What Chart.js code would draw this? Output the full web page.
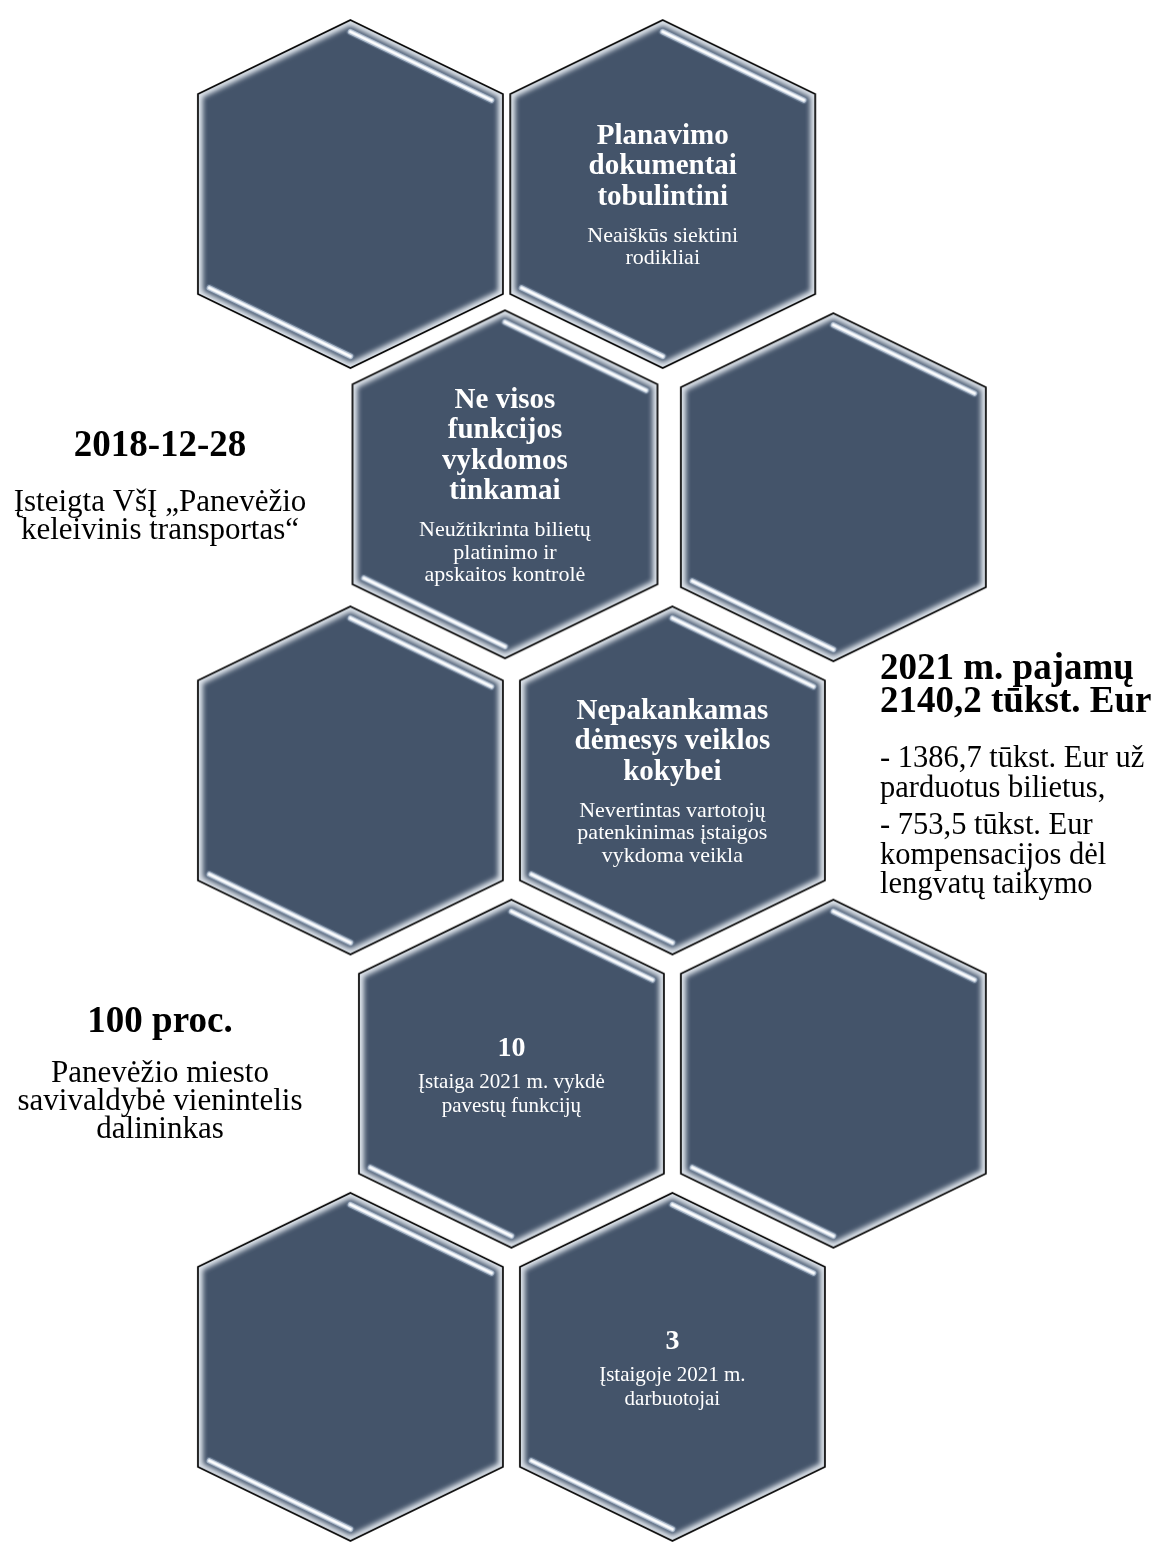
<!DOCTYPE html>
<html lang="lt">
<head>
<meta charset="utf-8">
<title>VšĮ „Panevėžio keleivinis transportas“</title>
<script src="https://cdn.jsdelivr.net/npm/chart.js@4.4.0/dist/chart.umd.min.js"></script>
<style>
  html, body { margin: 0; padding: 0; background: #ffffff; }
  #wrap { position: relative; width: 1162px; height: 1543px; overflow: hidden; }
  canvas { display: block; }
</style>
</head>
<body>
<div id="wrap"><canvas id="c" width="1162" height="1543"></canvas></div>
<script>
// ---------------- DATA ----------------
// honeycomb cells: grid column / row of every hexagon
const cellCol = [0, 1.94, 0.96, 3, 0, 2, 1, 3, 0, 2];
const cellRow = [0, 0, 0.99, 1, 2, 2, 3, 3, 4, 4];
// bold heading inside each cell
const cellTitle = [
  [],
  ['Planavimo', 'dokumentai', 'tobulintini'],
  ['Ne visos', 'funkcijos', 'vykdomos', 'tinkamai'],
  [],
  [],
  ['Nepakankamas', 'dėmesys veiklos', 'kokybei'],
  ['10'],
  [],
  [],
  ['3']
];
// explanatory text inside each cell
const cellNote = [
  [],
  ['Neaiškūs siektini', 'rodikliai'],
  ['Neužtikrinta bilietų', 'platinimo ir', 'apskaitos kontrolė'],
  [],
  [],
  ['Nevertintas vartotojų', 'patenkinimas įstaigos', 'vykdoma veikla'],
  ['Įstaiga 2021 m. vykdė', 'pavestų funkcijų'],
  [],
  [],
  ['Įstaigoje 2021 m.', 'darbuotojai']
];
// key facts written beside the honeycomb
const sideTitles = [
  ['2018-12-28'],
  ['2021 m. pajamų', '2140,2 tūkst. Eur'],
  ['100 proc.']
];
const sideNotes = [
  [['Įsteigta VšĮ „Panevėžio', 'keleivinis transportas“']],
  [['- 1386,7 tūkst. Eur už', 'parduotus bilietus,'], ['- 753,5 tūkst. Eur', 'kompensacijos dėl', 'lengvatų taikymo']],
  [['Panevėžio miesto', 'savivaldybė vienintelis', 'dalininkas']]
];

// ---------------- LAYOUT / STYLE ----------------
const W = 1162, H = 1543;
const COL_PX = 162.667, COL0_PX = 348;
const ROW_PX = 295.5, ROW0_PX = 189.5;
const FONT = '"Liberation Serif", "Times New Roman", serif';
const HEX_FILL = '#44546A';

const sideLayout = [
  { x: 160, align: 'center', titleY: 456, titleLH: 32.4, titleSize: 37, noteY: 510.7, noteLH: 28.2, noteSize: 31, paraGap: 37 },
  { x: 880, align: 'left',   titleY: 679.3, titleLH: 32.4, titleSize: 37, noteY: 766.7, noteLH: 29.8, noteSize: 30.5, paraGap: 37.3 },
  { x: 160, align: 'center', titleY: 1032.3, titleLH: 32.4, titleSize: 37, noteY: 1081.7, noteLH: 28.3, noteSize: 31, paraGap: 37 }
];

function makeHexSprite(w, h, s) {
  const pad = 3;
  const c = document.createElement('canvas');
  c.width = Math.ceil(w + 2 * pad);
  c.height = Math.ceil(h + 2 * pad);
  const g = c.getContext('2d');
  const P = [[w / 2, 0], [w, s], [w, h - s], [w / 2, h], [0, h - s], [0, s]].map(([x, y]) => [x + pad, y + pad]);
  const path = (pts) => {
    g.beginPath();
    pts.forEach(([x, y], i) => (i ? g.lineTo(x, y) : g.moveTo(x, y)));
    g.closePath();
  };
  const cx = pad + w / 2, cy = pad + h / 2;

  g.save();
  path(P);
  g.clip();
  // light bevel rim
  g.fillStyle = '#dfe5ec';
  g.fillRect(0, 0, c.width, c.height);
  // main body, softened toward the rim
  const ins = 5;
  const Q = P.map(([x, y]) => [cx + (x - cx) * (w - 2 * ins) / w, cy + (y - cy) * (h - 2 * ins * 1.15) / h]);
  g.filter = 'blur(2.6px)';
  g.fillStyle = HEX_FILL;
  path(Q);
  g.fill();
  g.filter = 'none';

  // glossy highlight strips (top-right and bottom-left edges)
  function strip(A, B, t0, t1, off) {
    const dx = B[0] - A[0], dy = B[1] - A[1];
    const L = Math.hypot(dx, dy);
    const ux = dx / L, uy = dy / L;
    // inward normal
    let nx = -uy, ny = ux;
    const mx = (A[0] + B[0]) / 2, my = (A[1] + B[1]) / 2;
    if ((cx - mx) * nx + (cy - my) * ny < 0) { nx = -nx; ny = -ny; }
    const sx = A[0] + ux * L * t0 + nx * off, sy = A[1] + uy * L * t0 + ny * off;
    const ex = A[0] + ux * L * t1 + nx * off, ey = A[1] + uy * L * t1 + ny * off;
    g.lineCap = 'round';
    const layers = [
      [8, 'rgba(110,128,152,0.55)'],
      [5.5, 'rgba(185,198,214,0.95)'],
      [3, 'rgba(235,240,246,1)'],
      [1.6, '#ffffff']
    ];
    g.filter = 'blur(0.4px)';
    layers.forEach(([lw, col]) => {
      g.beginPath();
      g.moveTo(sx, sy);
      g.lineTo(ex, ey);
      g.lineWidth = lw;
      g.strokeStyle = col;
      g.stroke();
    });
    g.filter = 'none';
  }
  strip(P[0], P[1], 0.03, 0.955, 10.5);
  strip(P[4], P[3], 0.045, 0.97, 10.5);
  g.restore();

  path(P);
  g.lineWidth = 1.7;
  g.strokeStyle = '#000000';
  g.lineJoin = 'miter';
  g.stroke();
  return c;
}

const hexSprite = makeHexSprite(305, 348, 74);

const xMin = -COL0_PX / COL_PX, xMax = xMin + W / COL_PX;
const yMin = -ROW0_PX / ROW_PX, yMax = yMin + H / ROW_PX;

const textPlugin = {
  id: 'honeycombText',
  afterDatasetsDraw(chart) {
    const ctx = chart.ctx;
    const meta = chart.getDatasetMeta(0);
    ctx.save();
    ctx.textBaseline = 'alphabetic';
    ctx.fillStyle = '#ffffff';
    ctx.textAlign = 'center';
    meta.data.forEach((pt, i) => {
      const titles = cellTitle[i], notes = cellNote[i];
      if (!titles.length && !notes.length) return;
      const numeric = titles.length === 1 && /^\d+$/.test(titles[0]);
      const tLH = 30.5, tSize = numeric ? 28 : 29;
      const nLH = numeric ? 24 : 22.5, nSize = numeric ? 21 : 22;
      const gap = numeric ? 32 : 37;
      const total = (titles.length - 1) * tLH + gap + (notes.length - 1) * nLH;
      let y = pt.y + 10 - total / 2;
      ctx.font = 'bold ' + tSize + 'px ' + FONT;
      titles.forEach((t, k) => {
        ctx.fillText(t, pt.x, y);
        if (k < titles.length - 1) y += tLH;
      });
      y += gap;
      ctx.font = nSize + 'px ' + FONT;
      notes.forEach((t) => {
        ctx.fillText(t, pt.x, y);
        y += nLH;
      });
    });

    // side notes
    ctx.fillStyle = '#000000';
    sideTitles.forEach((titles, i) => {
      const L = sideLayout[i];
      ctx.textAlign = L.align;
      ctx.font = 'bold ' + L.titleSize + 'px ' + FONT;
      titles.forEach((t, k) => ctx.fillText(t, L.x, L.titleY + k * L.titleLH));
      ctx.font = L.noteSize + 'px ' + FONT;
      let y = L.noteY;
      sideNotes[i].forEach((para, p) => {
        para.forEach((t, k) => {
          ctx.fillText(t, L.x, y);
          if (k < para.length - 1) y += L.noteLH;
        });
        y += L.paraGap;
      });
    });
    ctx.restore();
  }
};

new Chart(document.getElementById('c'), {
  type: 'scatter',
  data: {
    datasets: [{
      data: cellCol.map((c, i) => ({ x: c, y: cellRow[i] })),
      pointStyle: hexSprite,
      pointRadius: 5,
      pointHoverRadius: 5,
      clip: false
    }]
  },
  options: {
    responsive: false,
    devicePixelRatio: 1,
    animation: false,
    events: [],
    layout: { padding: 0 },
    scales: {
      x: { type: 'linear', min: xMin, max: xMax, display: false },
      y: { type: 'linear', min: yMin, max: yMax, reverse: true, display: false }
    },
    plugins: {
      legend: { display: false },
      tooltip: { enabled: false }
    }
  },
  plugins: [textPlugin]
});
</script>
</body>
</html>
